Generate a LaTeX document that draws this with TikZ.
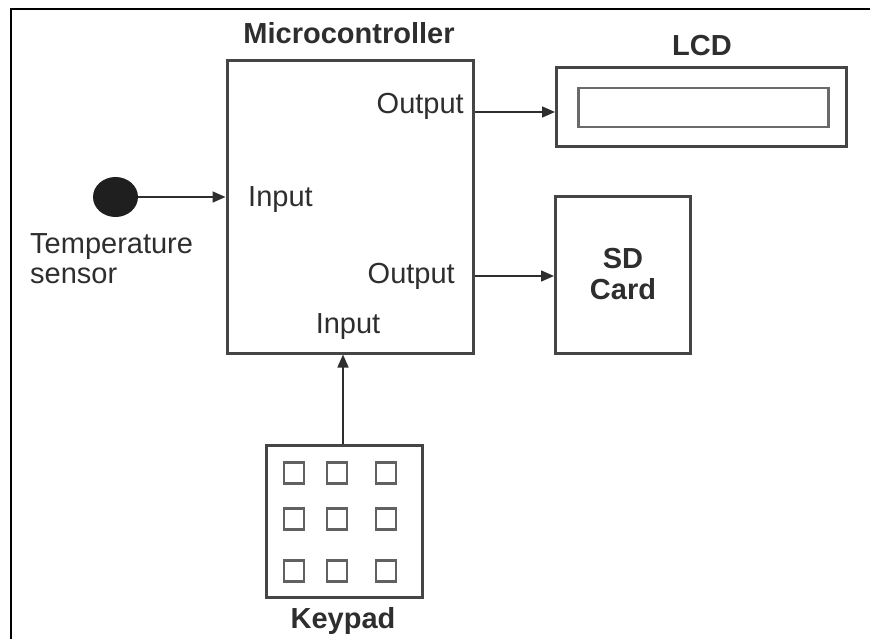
\documentclass[tikz,border=0pt]{standalone}
\usepackage{fontspec}
\setmainfont{Liberation Sans}
\usetikzlibrary{arrows.meta,shapes.geometric}
\definecolor{ink}{HTML}{2E2E2E}
\definecolor{edge}{HTML}{454545}
\tikzset{
  lbl/.style={text=ink,inner sep=0pt,font=\fontsize{29}{30}\selectfont},
  title/.style={lbl,font=\fontsize{29}{31}\selectfont\bfseries},
  blockbox/.style={draw=edge,line width=3pt,rectangle,inner sep=0pt},
  keybox/.style={draw=edge!85,line width=2.2pt,rectangle,minimum width=20pt,minimum height=21pt,inner sep=0pt},
  arr/.style={draw=ink,line width=1.6pt,-{Triangle[length=13pt,width=11pt]}},
}
\begin{document}
\begin{tikzpicture}[x=1pt,y=-1pt]
  \useasboundingbox (0,0) rectangle (870,639);
  % page frame (left and top edges)
  \draw[black,line width=2pt] (11,639) -- (11,9) -- (870,9);

  % main blocks
  \node[blockbox,minimum width=246pt,minimum height=292pt] (mcu) at (350,207) {};
  \node[blockbox,minimum width=290pt,minimum height=79pt] (lcd) at (701.5,107.5) {};
  \node[draw=edge!80,line width=2.6pt,rectangle,inner sep=0pt,minimum width=250pt,minimum height=39pt] (screen) at (703.5,107.5) {};
  \node[blockbox,minimum width=135pt,minimum height=156pt] (sd) at (623,275) {};
  \node[blockbox,minimum width=156pt,minimum height=152pt] (keypad) at (344,521.5) {};
  \node[ellipse,fill=black!88,draw=none,minimum width=45pt,minimum height=40pt,inner sep=0pt] (sensor) at (115.5,197) {};

  % keypad keys
  \foreach \c/\kx in {1/294,2/337,3/386}{
    \foreach \r/\ky in {1/473,2/519,3/571}{
      \node[keybox] (key\c\r) at (\kx,\ky) {};
    }
  }

  % titles
  \node[title] (mcutitle) at (349,33) {Microcontroller};
  \node[title] (lcdtitle) at (702,46) {LCD};
  \node[title] (kptitle) at (343,621) {Keypad};
  \node[title,align=center,anchor=base] (sdtitle) at (623,299) {SD\\Card};

  % port labels inside the microcontroller
  \node[lbl,anchor=base east] (out1) at (464,114) {Output};
  \node[lbl,anchor=base east] (out2) at (455,283) {Output};
  \node[lbl,anchor=base west] (in1) at (248,207) {Input};
  \node[lbl,anchor=base] (in2) at (348,333) {Input};
  \node[lbl,align=left,anchor=base west] (senslbl) at (30,283) {Temperature\\sensor};

  % signal paths
  \coordinate (o1) at (473,112);
  \coordinate (o2) at (473,276);
  \draw[arr] (sensor.east) -- (sensor.east -| mcu.west);
  \draw[arr] (mcu.east |- o1) -- (lcd.west |- o1);
  \draw[arr] (mcu.east |- o2) -- (sd.west |- o2);
  \draw[arr] (keypad.north -| 343,0) -- (mcu.south -| 343,0);
\end{tikzpicture}
\end{document}
